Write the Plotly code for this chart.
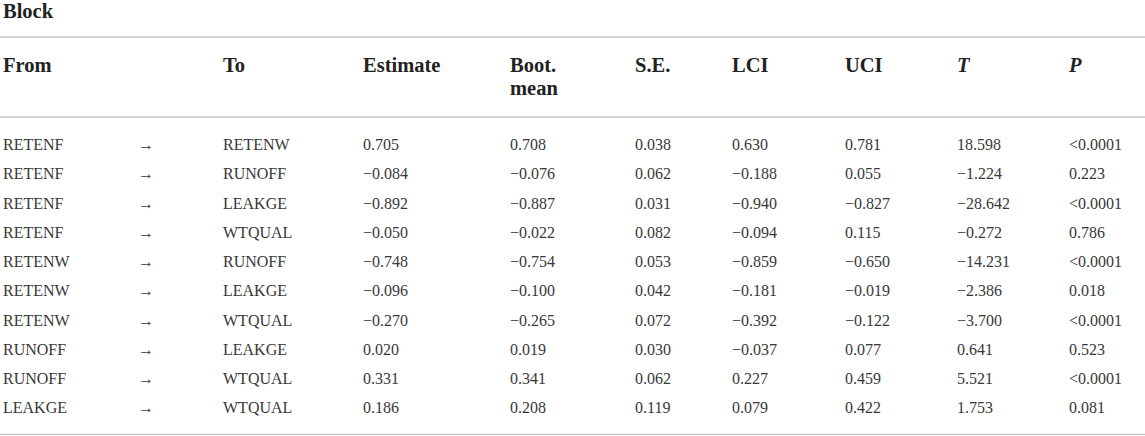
import numpy as np
import plotly.graph_objects as go

# ---------------- data ----------------
title = "Block"
headers = ["From", "", "To", "Estimate", "Boot.<br>mean", "S.E.", "LCI", "UCI", "<i>T</i>", "<i>P</i>"]

from_var = ["RETENF", "RETENF", "RETENF", "RETENF", "RETENW", "RETENW", "RETENW", "RUNOFF", "RUNOFF", "LEAKGE"]
to_var = ["RETENW", "RUNOFF", "LEAKGE", "WTQUAL", "RUNOFF", "LEAKGE", "WTQUAL", "LEAKGE", "WTQUAL", "WTQUAL"]
estimate = [0.705, -0.084, -0.892, -0.050, -0.748, -0.096, -0.270, 0.020, 0.331, 0.186]
boot_mean = [0.708, -0.076, -0.887, -0.022, -0.754, -0.100, -0.265, 0.019, 0.341, 0.208]
se = [0.038, 0.062, 0.031, 0.082, 0.053, 0.042, 0.072, 0.030, 0.062, 0.119]
lci = [0.630, -0.188, -0.940, -0.094, -0.859, -0.181, -0.392, -0.037, 0.227, 0.079]
uci = [0.781, 0.055, -0.827, 0.115, -0.650, -0.019, -0.122, 0.077, 0.459, 0.422]
t_val = [18.598, -1.224, -28.642, -0.272, -14.231, -2.386, -3.700, 0.641, 5.521, 1.753]
p_val = ["<0.0001", "0.223", "<0.0001", "0.786", "<0.0001", "0.018", "<0.0001", "0.523", "<0.0001", "0.081"]

# ---------------- layout constants ----------------
W, H = 1145, 436
COL_X = [3, 138, 223, 363, 510, 635, 732, 845, 957, 1069]
ROW0, ROW_H = 146, 29.25
HEAD_Y, HEAD_LH = 67, 23
TITLE_Y = 13
LINES_Y = [37, 117, 434.5]
FONT = "Liberation Serif, Times New Roman, serif"
BODY_COLOR = "#383838"
HEAD_COLOR = "#222222"
LINE_COLOR = "#c6c6c6"
BODY_SIZE = 16
HEAD_SIZE = 20.5


def fmt(v):
    s = f"{abs(v):.3f}"
    return ("\u2212" + s) if v < 0 else s


n = len(from_var)
rows_y = ROW0 + ROW_H * np.arange(n)
columns = [
    from_var,
    ["\u2192"] * n,
    to_var,
    [fmt(v) for v in estimate],
    [fmt(v) for v in boot_mean],
    [fmt(v) for v in se],
    [fmt(v) for v in lci],
    [fmt(v) for v in uci],
    [fmt(v) for v in t_val],
    p_val,
]

fig = go.Figure()

# body cells
for cx, col in zip(COL_X, columns):
    fig.add_trace(go.Scatter(
        x=[cx] * n, y=rows_y, mode="text", text=col,
        textposition="middle right", marker=dict(size=0),
        textfont=dict(family=FONT, size=BODY_SIZE, color=BODY_COLOR),
        hoverinfo="skip", showlegend=False,
    ))

# header cells (each line placed on its own header line)
hx, hy, ht = [], [], []
for cx, h in zip(COL_X, headers):
    if not h:
        continue
    for k, part in enumerate(h.split("<br>")):
        hx.append(cx)
        hy.append(HEAD_Y + k * HEAD_LH)
        ht.append(f"<b>{part}</b>")
fig.add_trace(go.Scatter(
    x=hx, y=hy, mode="text", text=ht, textposition="middle right",
    marker=dict(size=0),
    textfont=dict(family=FONT, size=HEAD_SIZE, color=HEAD_COLOR),
    hoverinfo="skip", showlegend=False,
))

# title
fig.add_trace(go.Scatter(
    x=[COL_X[0]], y=[TITLE_Y], mode="text", text=[f"<b>{title}</b>"],
    textposition="middle right", marker=dict(size=0),
    textfont=dict(family=FONT, size=HEAD_SIZE, color=HEAD_COLOR),
    hoverinfo="skip", showlegend=False,
))

for ly in LINES_Y:
    fig.add_shape(type="line", xref="paper", x0=0, x1=1, yref="y", y0=ly, y1=ly,
                  line=dict(color=LINE_COLOR, width=1.6))

fig.update_layout(
    width=W, height=H,
    margin=dict(l=0, r=0, t=0, b=0),
    paper_bgcolor="white", plot_bgcolor="white",
    xaxis=dict(range=[0, W], visible=False, fixedrange=True),
    yaxis=dict(range=[H, 0], visible=False, fixedrange=True),
)

fig.write_html(
    "out.html",
    config={"displayModeBar": False},
    post_script="document.body.style.margin='0px';document.body.style.overflow='hidden';",
)
